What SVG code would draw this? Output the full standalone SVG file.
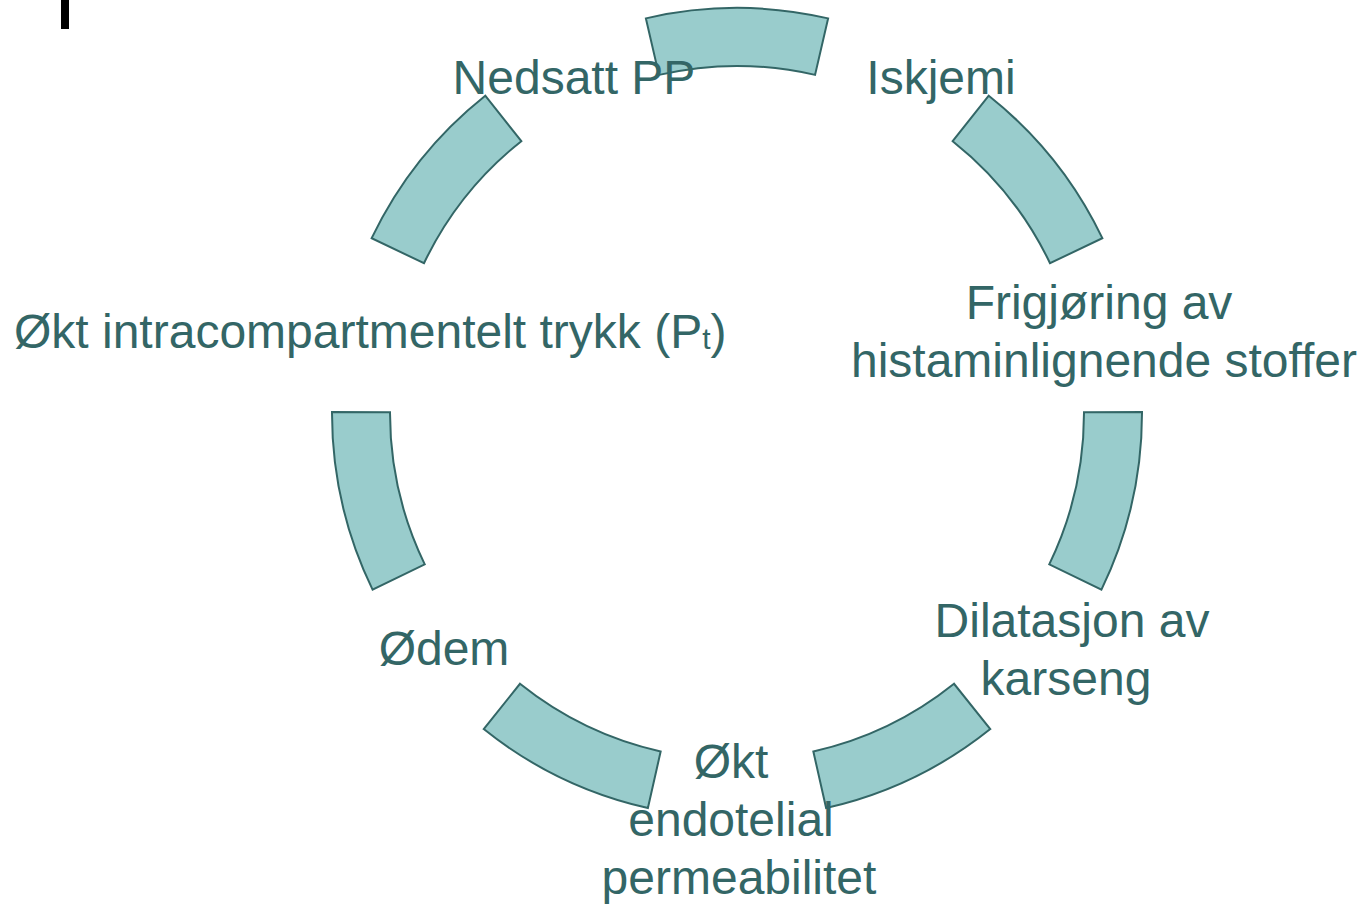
<svg xmlns="http://www.w3.org/2000/svg" width="1366" height="905" viewBox="0 0 1366 905">
<style>
.arc{fill:#99CCCC;stroke:#336666;stroke-width:2;stroke-linejoin:miter}
.lbl{font-family:"Liberation Sans",Arial,sans-serif;font-size:48px;fill:#336666;text-anchor:middle}
</style>
<rect width="1366" height="905" fill="#FFFFFF"/>
<rect x="61" y="0" width="8" height="29" fill="#000000"/>
<g id="connectors">
<path class="arc" d="M645.90,18.38 A405,405 0 0 1 828.10,18.38 L815.06,74.89 A347,347 0 0 0 658.94,74.89 Z"/>
<path class="arc" d="M988.74,95.73 A405,405 0 0 1 1102.34,238.19 L1050.02,263.22 A347,347 0 0 0 952.68,141.16 Z"/>
<path class="arc" d="M1142.00,412.01 A405,405 0 0 1 1101.44,589.65 L1049.25,564.35 A347,347 0 0 0 1084.00,412.15 Z"/>
<path class="arc" d="M990.28,729.03 A405,405 0 0 1 826.11,808.08 L813.35,751.50 A347,347 0 0 0 954.01,683.77 Z"/>
<path class="arc" d="M647.89,808.08 A405,405 0 0 1 483.72,729.03 L519.99,683.77 A347,347 0 0 0 660.65,751.50 Z"/>
<path class="arc" d="M372.56,589.65 A405,405 0 0 1 332.00,412.01 L390.00,412.15 A347,347 0 0 0 424.75,564.35 Z"/>
<path class="arc" d="M371.66,238.19 A405,405 0 0 1 485.26,95.73 L521.32,141.16 A347,347 0 0 0 423.98,263.22 Z"/>
</g>
<g id="node-nedsatt-pp"><text class="lbl" x="574" y="94">Nedsatt PP</text></g>
<g id="node-iskjemi"><text class="lbl" x="941" y="94">Iskjemi</text></g>
<g id="node-frigjoring"><text class="lbl"><tspan x="1099" y="319">Frigjøring av</tspan><tspan x="1104" y="377">histaminlignende stoffer</tspan></text></g>
<g id="node-dilatasjon"><text class="lbl"><tspan x="1072" y="637">Dilatasjon av</tspan><tspan x="1066" y="695">karseng</tspan></text></g>
<g id="node-permeabilitet"><text class="lbl"><tspan x="731" y="778">Økt</tspan><tspan x="731" y="836">endotelial</tspan><tspan x="739" y="894">permeabilitet</tspan></text></g>
<g id="node-odem"><text class="lbl" x="444" y="665">Ødem</text></g>
<g id="node-trykk"><text class="lbl" x="14" y="348" style="text-anchor:start">Økt intracompartmentelt trykk (P<tspan font-size="30" dy="1">t</tspan><tspan dy="-1">)</tspan></text></g>
</svg>
